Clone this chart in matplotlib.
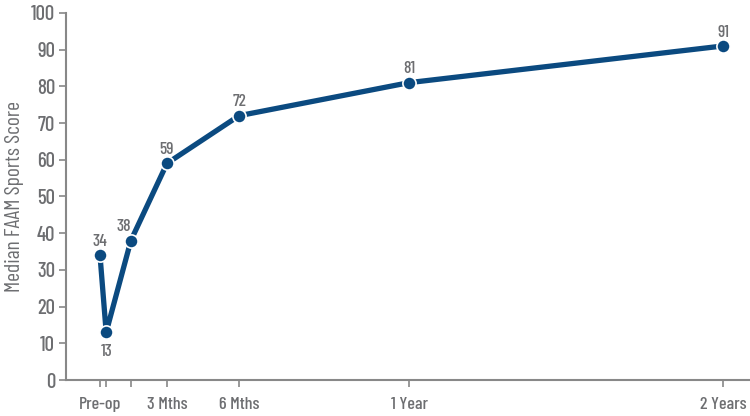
import matplotlib
matplotlib.use("Agg")
import matplotlib.pyplot as plt

# Data
time_weeks = [0, 1.2, 6, 13, 27, 60, 121]
scores = [34, 13, 38, 59, 72, 81, 91]
tick_pos = [0, 1.2, 6, 13, 27, 60, 121]
tick_labels = ["Pre-op", "", "", "3 Mths", "6 Mths", "1 Year", "2 Years"]
label_offsets = [(0, 10), (0, -14), (-5, 10), (0, 10), (0, 10), (0, 10), (0, 10)]

plt.rcParams['font.family'] = ['Barlow Condensed', 'DejaVu Sans']

gray = "#6d6e71"
blue = "#0b4a80"

fig = plt.figure(figsize=(7.5, 4.16), dpi=100)
ax = fig.add_axes([0.088, 0.0865, 0.912, 0.8825])
ax.plot(time_weeks, scores, color=blue, lw=3.8, marker='o', markersize=9.5,
        markerfacecolor=blue, markeredgecolor='white', markeredgewidth=1.2,
        solid_joinstyle='round', zorder=3, clip_on=False)
for x, y, (dx, dy) in zip(time_weeks, scores, label_offsets):
    ax.annotate(str(y), (x, y), xytext=(dx, dy), textcoords='offset points',
                ha='center', va='center', fontsize=12.5, color=gray,
                fontweight='medium')

ax.set_xlim(-6.6, 126.2)
ax.set_ylim(0, 100)
ax.set_yticks(range(0, 101, 10))
ax.set_xticks(tick_pos)
ax.set_xticklabels(tick_labels)
ax.set_ylabel("Median FAAM Sports Score", fontsize=15.5, color=gray, labelpad=5)
for s in ['top', 'right']:
    ax.spines[s].set_visible(False)
for s in ['left', 'bottom']:
    ax.spines[s].set_color("#888888")
    ax.spines[s].set_linewidth(1.5)
ax.tick_params(axis='both', colors="#888888", length=5, width=1.2, labelcolor=gray)
ax.tick_params(axis='y', labelsize=15, pad=3)
ax.tick_params(axis='x', labelsize=13, pad=7)
for t in ax.get_xticklabels() + ax.get_yticklabels():
    t.set_fontweight('medium')

fig.savefig("out.png", dpi=100)
